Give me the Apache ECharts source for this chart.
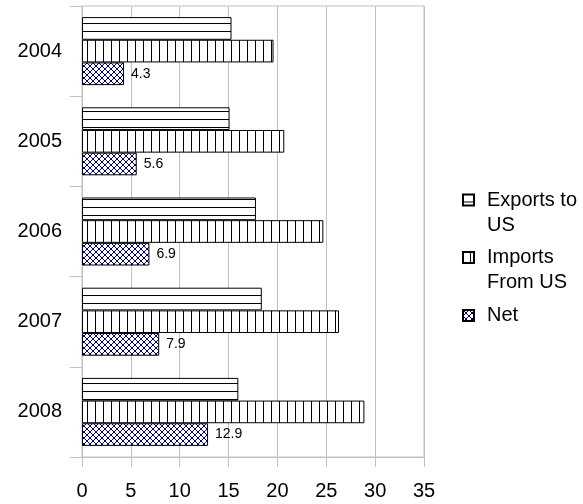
<!DOCTYPE html>
<html>
<head>
<meta charset="utf-8">
<script src="https://cdn.jsdelivr.net/npm/echarts@6/dist/echarts.min.js"></script>
<style>
  html, body { margin: 0; padding: 0; background: #fff; }
  #chart { width: 583px; height: 504px; }
</style>
</head>
<body>
<div id="chart"></div>
<script>
// Trade with the US by year (billions)
const years = ['2004', '2005', '2006', '2007', '2008'];
const exportsToUS = [15.3, 15.1, 17.8, 18.4, 16.0];
const importsFromUS = [19.6, 20.7, 24.7, 26.3, 28.9];
const netValues = [4.3, 5.6, 6.9, 7.9, 12.9];
const axisMin = 0;
const axisMax = 35;
const axisStep = 5;

const FONT = "'Liberation Sans', Arial, sans-serif";
const GRID_GRAY = '#c0c0c0';

// Small canvas tiles used as repeating fill patterns
function tile(w, h, draw) {
  const c = document.createElement('canvas');
  c.width = w; c.height = h;
  const g = c.getContext('2d');
  g.fillStyle = '#fff';
  g.fillRect(0, 0, w, h);
  draw(g, w, h);
  return c;
}
const hStripes = tile(8, 8, (g) => { g.fillStyle = '#000'; g.fillRect(0, 7, 8, 1); });
const vStripes = tile(8, 8, (g) => { g.fillStyle = '#000'; g.fillRect(7, 0, 1, 8); });
const crossHatch = tile(6, 6, (g) => {
  g.strokeStyle = '#00007a';
  g.lineWidth = 1;
  g.beginPath();
  g.moveTo(-1, -1); g.lineTo(7, 7);
  g.moveTo(7, -1); g.lineTo(-1, 7);
  g.stroke();
});
const pat = (img) => ({ image: img, repeat: 'repeat' });

const LINE_H = 25;
// Two-line entries get an empty leading line so the icon sits level with the first text line
function legendFor(name, lines, top) {
  const text = lines.length > 1 ? '\n' + lines.join('\n') : lines[0];
  return {
    orient: 'vertical',
    left: 462,
    top: top,
    padding: 0,
    itemWidth: 11,
    itemHeight: 11,
    icon: 'rect',
    data: [name],
    formatter: () => text,
    textStyle: {
      fontFamily: FONT,
      fontSize: 20,
      color: '#000',
      lineHeight: LINE_H,
      padding: [0, 0, 0, 8]
    }
  };
}

const chart = echarts.init(document.getElementById('chart'), null, { renderer: 'canvas' });
chart.setOption({
  animation: false,
  backgroundColor: '#fff',
  textStyle: { fontFamily: FONT },
  legend: [
    legendFor('Exports to US', ['Exports to', 'US'], 200 - 1.5 * LINE_H),
    legendFor('Imports From US', ['Imports', 'From US'], 257.5 - 1.5 * LINE_H),
    legendFor('Net', ['Net'], 315.5 - 0.5 * LINE_H)
  ],
  grid: {
    left: 82, right: 159, top: 6, bottom: 47,
    show: true, borderColor: GRID_GRAY, borderWidth: 1,
    backgroundColor: 'transparent', containLabel: false
  },
  xAxis: {
    type: 'value',
    min: axisMin, max: axisMax, interval: axisStep,
    axisLine: { show: true, lineStyle: { color: GRID_GRAY } },
    axisTick: { show: true, length: 10, lineStyle: { color: GRID_GRAY } },
    splitLine: { show: true, lineStyle: { color: GRID_GRAY } },
    axisLabel: { fontFamily: FONT, fontSize: 20, color: '#000', margin: 24 }
  },
  yAxis: {
    type: 'category',
    data: years,
    inverse: true,
    axisLine: { show: true, lineStyle: { color: GRID_GRAY } },
    axisTick: { show: true, length: 12, lineStyle: { color: GRID_GRAY } },
    splitLine: { show: false },
    axisLabel: { fontFamily: FONT, fontSize: 20, color: '#000', margin: 20 }
  },
  series: [
    {
      name: 'Exports to US', type: 'bar', data: exportsToUS,
      barGap: '0%', barCategoryGap: '24.6%',
      itemStyle: { color: pat(hStripes), borderColor: '#000', borderWidth: 1 }
    },
    {
      name: 'Imports From US', type: 'bar', data: importsFromUS,
      barGap: '0%', barCategoryGap: '24.6%',
      itemStyle: { color: pat(vStripes), borderColor: '#000', borderWidth: 1 }
    },
    {
      name: 'Net', type: 'bar', data: netValues,
      barGap: '0%', barCategoryGap: '24.6%',
      itemStyle: { color: pat(crossHatch), borderColor: '#000', borderWidth: 1 },
      label: {
        show: true, position: 'right', distance: 7,
        fontFamily: FONT, fontSize: 14, color: '#000'
      }
    }
  ]
});
</script>
</body>
</html>
